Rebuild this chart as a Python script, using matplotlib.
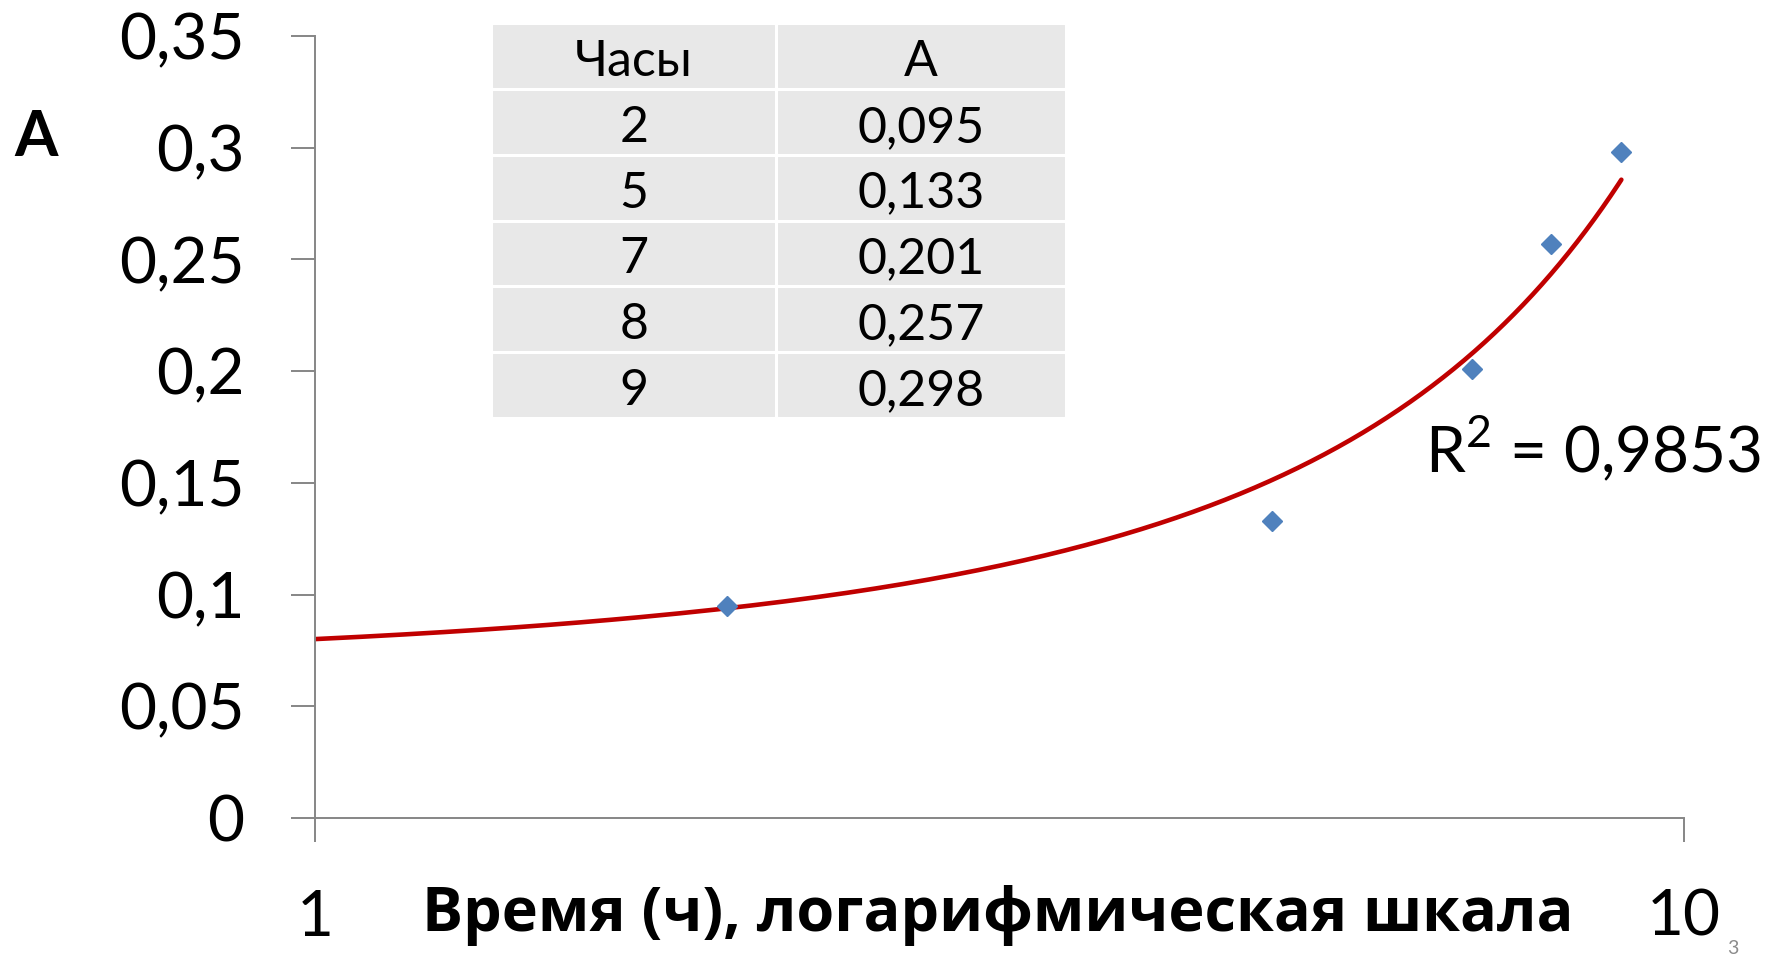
import matplotlib.pyplot as plt
import matplotlib.transforms as mtransforms
import numpy as np
from matplotlib.ticker import FixedLocator, NullLocator

plt.rcParams['font.family'] = ['Lato', 'Open Sans', 'DejaVu Sans']
plt.rcParams['mathtext.fontset'] = 'custom'
plt.rcParams['mathtext.rm'] = 'Lato'

# measurements: hours vs absorbance
hours = [2, 5, 7, 8, 9]
absorbance = [0.095, 0.133, 0.201, 0.257, 0.298]
table_header = ['Часы', 'A']
table_rows = [['2', '0,095'], ['5', '0,133'], ['7', '0,201'], ['8', '0,257'], ['9', '0,298']]

# exponential trendline y = a * exp(b * x)
trend_a = 0.0683
trend_b = 0.159
r_squared = '0,9853'

y_ticks = [0, 0.05, 0.1, 0.15, 0.2, 0.25, 0.3, 0.35]
y_tick_labels = ['0', '0,05', '0,1', '0,15', '0,2', '0,25', '0,3', '0,35']
x_ticks = [1, 10]
x_tick_labels = ['1', '10']

fig = plt.figure(figsize=(17.79, 9.57), dpi=100)
ax = fig.add_axes([315 / 1779, 1 - 818 / 957, 1369 / 1779, 782 / 957])

axis_grey = '#868686'

x_fit = np.linspace(1, 9, 200)
ax.plot(x_fit, trend_a * np.exp(trend_b * x_fit), color='#c00000', lw=3.3,
        solid_capstyle='round', zorder=2)
ax.plot(hours, absorbance, linestyle='none', marker='D', markersize=10,
        color='#4f81bd', zorder=3)

ax.set_xscale('log')
ax.set_xlim(1, 10)
ax.set_ylim(0, 0.35)
ax.xaxis.set_major_locator(FixedLocator(x_ticks))
ax.xaxis.set_minor_locator(NullLocator())
ax.set_xticklabels(x_tick_labels)
ax.set_yticks(y_ticks)
ax.set_yticklabels(y_tick_labels)

for side in ['top', 'right']:
    ax.spines[side].set_visible(False)
for side in ['left', 'bottom']:
    ax.spines[side].set_color(axis_grey)
    ax.spines[side].set_linewidth(1.4)

ax.tick_params(axis='both', which='major', direction='out', length=17,
               width=1.4, color=axis_grey, labelsize=46, pad=34)

# data table in the upper left of the plot
tbl = ax.table(cellText=table_rows, colLabels=table_header, cellLoc='center',
               colWidths=[0.496, 0.504], bbox=[0.1286, 0.5115, 0.42, 0.505])
tbl.auto_set_font_size(False)
for (r, c), cell in tbl.get_celld().items():
    cell.set_facecolor('#e8e8e8')
    cell.set_edgecolor('white')
    cell.set_linewidth(2.2)
    txt = cell.get_text()
    txt.set_fontsize(36)
    # nudge the text a little lower inside each cell
    txt.set_transform(mtransforms.Affine2D().translate(0, -6))

fig.text(36 / 1779, 1 - 138 / 957, 'A', fontsize=45, fontweight='bold',
         ha='center', va='center')
fig.text(998 / 1779, 1 - 915 / 957, 'Время (ч), логарифмическая шкала',
         fontsize=44, fontweight='bold', family=['Open Sans', 'DejaVu Sans'],
         ha='center', va='center')
fig.text(1425 / 1779, 1 - 472 / 957, r'R$^2$ = ' + r_squared, fontsize=46,
         ha='left', va='baseline')
fig.text(1733 / 1779, 1 - 948 / 957, '3', fontsize=14, color='#8c8c8c',
         ha='center', va='center')

fig.savefig('out.png', dpi=100)
